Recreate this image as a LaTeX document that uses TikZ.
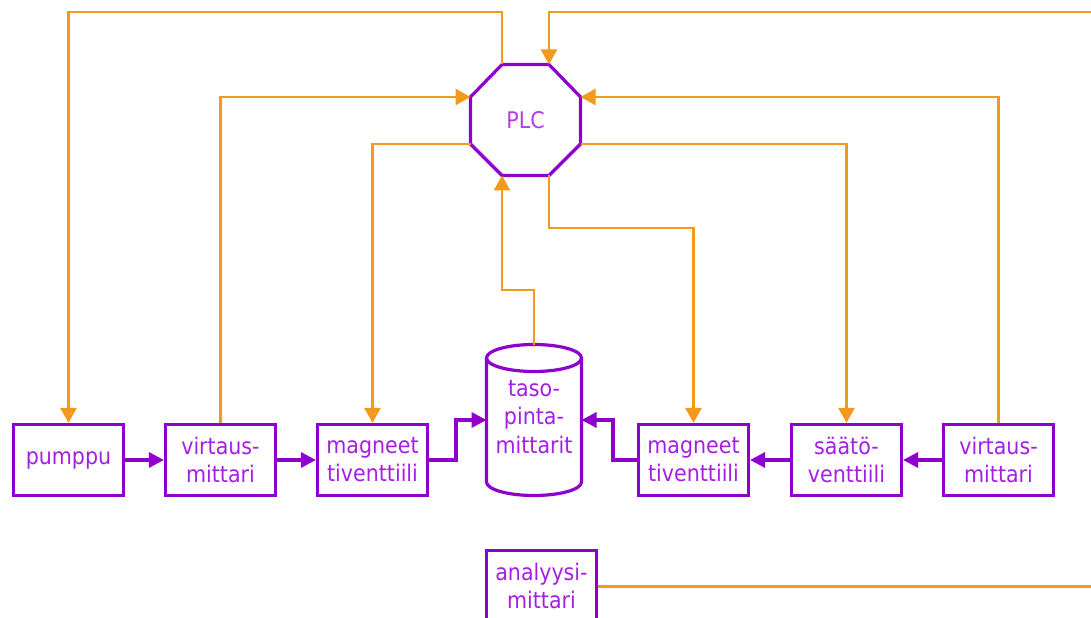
\documentclass[tikz,border=0pt]{standalone}
\usepackage{fontspec}
\setmainfont{DejaVu Sans Condensed}
\usetikzlibrary{arrows.meta}
\definecolor{org}{HTML}{F39A1E}
\definecolor{pur}{HTML}{8E00CC}
\definecolor{ptxt}{HTML}{A51EE6}
\definecolor{plctxt}{HTML}{B53CE8}
\begin{document}
\begin{tikzpicture}[x=1bp,y=-1bp,
  box/.style={draw=pur, line width=3.2bp, minimum width=110bp, minimum height=71bp,
    inner sep=0pt, text=ptxt, align=center, font=\fontsize{23}{28}\selectfont},
  lbl/.style={inner sep=0pt, text=ptxt, align=center, font=\fontsize{23}{28.5}\selectfont},
  sig/.style={draw=org, line width=2.7bp, -{Triangle[length=15bp,width=16bp]}},
  sigline/.style={draw=org, line width=2.7bp},
  flow/.style={draw=pur, line width=3.2bp, -{Triangle[length=15bp,width=15bp]}},
  shapeline/.style={draw=pur, line width=3.2bp, line join=miter}
]
\useasboundingbox (0,0) rectangle (1091,618);

% boxes
\node[box] (pumppu) at (68.5,460) {pumppu};
\node[box] (virtaus1) at (220.5,460) {virtaus-\\mittari};
\node[box] (magneet1) at (372.5,460) {magneet\\tiventtiili};
\node[box] (magneet2) at (693.5,460) {magneet\\tiventtiili};
\node[box] (saato) at (846.5,460) {säätö-\\venttiili};
\node[box] (virtaus2) at (998.5,460) {virtaus-\\mittari};
\node[box] (analyysi) at (541.5,586) {analyysi-\\mittari};

% PLC octagon
\coordinate (o-tl) at (502,64.5);
\coordinate (o-tr) at (549,64.5);
\coordinate (o-rt) at (580.5,97);
\coordinate (o-rb) at (580.5,144);
\coordinate (o-br) at (549,175.5);
\coordinate (o-bl) at (502,175.5);
\coordinate (o-lb) at (470.5,144);
\coordinate (o-lt) at (470.5,97);
\draw[shapeline] (o-tl) -- (o-tr) -- (o-rt) -- (o-rb) -- (o-br) -- (o-bl) -- (o-lb) -- (o-lt) -- cycle;
\node[inner sep=0pt, text=plctxt, font=\fontsize{23}{26}\selectfont] (PLC) at (525.5,120) {PLC};

% cylinder
\coordinate (cyl-top) at (534,344.5);
\coordinate (cyl-w) at (486.5,420);
\coordinate (cyl-e) at (581.5,420);
\draw[shapeline] (534,358) ellipse[x radius=47.5, y radius=13.5];
\draw[shapeline] (486.5,358) -- (486.5,482) arc[start angle=180, end angle=0, x radius=47.5, y radius=13.5] -- (581.5,358);
\node[lbl] (cyl) at (534,417) {taso-\\pinta-\\mittarit};

% helper coordinates
\coordinate (topline) at (0,12);
\coordinate (offR) at (1091,12);
\coordinate (offR2) at (1091,586.5);
\coordinate (k1) at (549,228);
\coordinate (k2) at (534,290);
\coordinate (m1) at (456,460);
\coordinate (m2) at (613,460);

% orange signal lines
\draw[sig] (o-tl) |- (topline -| pumppu.north) -- (pumppu.north);
\draw[sig] (offR) -| (o-tr);
\draw[sig] (virtaus1.north) |- (o-lt);
\draw[sig] (virtaus2.north) |- (o-rt);
\draw[sig] (o-lb) -| (magneet1.north);
\draw[sig] (o-rb) -| (saato.north);
\draw[sig] (o-br) -- (k1) -| (magneet2.north);
\draw[sig] (cyl-top) -- (k2) -| (o-bl);
\draw[sigline] (analyysi.east |- offR2) -- (offR2);

% purple flow lines
\draw[flow] (pumppu.east) -- (virtaus1.west);
\draw[flow] (virtaus1.east) -- (magneet1.west);
\draw[flow] (magneet1.east) -- (m1) |- (cyl-w);
\draw[flow] (magneet2.west) -- (m2) |- (cyl-e);
\draw[flow] (saato.west) -- (magneet2.east);
\draw[flow] (virtaus2.west) -- (saato.east);
\end{tikzpicture}
\end{document}
